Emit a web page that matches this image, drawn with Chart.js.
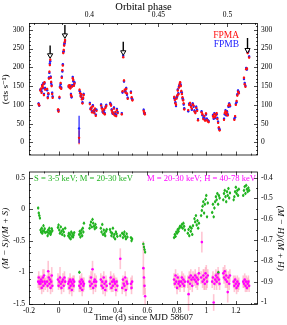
<!DOCTYPE html>
<html>
<head>
<meta charset="utf-8">
<script src="https://cdn.jsdelivr.net/npm/chart.js@4.4.0/dist/chart.umd.min.js"></script>
<style>
  html, body { margin: 0; padding: 0; background: #fff; }
  #wrap { position: relative; width: 287px; height: 325px; }
  canvas { position: absolute; left: 0; }
</style>
</head>
<body>
<div id="wrap">
  <canvas id="lcChart" width="287" height="165" style="top:0"></canvas>
  <canvas id="hrChart" width="287" height="162" style="top:163px"></canvas>
</div>
<script>
// ---- data ----
const tMin = -0.2, tMax = 1.35;
const phaseAtT0 = 0.3777, periodDays = 9.35;

// light curve (cts/s), NuSTAR orbit clusters
const topTime = [
  -0.135,-0.131,
  -0.123,-0.119,-0.115,-0.111,-0.107,-0.103,-0.099,-0.095,-0.091,
  -0.077,-0.073,-0.069,-0.065,-0.062,-0.059,-0.056,-0.053,-0.050,-0.047,-0.043,-0.040,
  -0.003,0.000,0.006,0.010,0.014,0.018,0.022,0.026,0.029,0.032,0.035,0.038,0.041,0.044,
  0.068,0.072,0.076,0.080,0.084,0.088,0.092,0.096,0.100,0.104,0.108,
  0.142,0.146,0.150,0.154,0.158,0.162,0.166,0.170,
  0.212,0.217,0.222,0.227,0.232,0.237,0.242,0.247,0.252,0.257,
  0.288,0.293,0.298,0.303,0.308,0.313,0.318,0.323,
  0.350,0.355,0.360,0.365,0.370,0.375,0.380,0.385,0.390,0.395,0.400,
  0.428,0.433,0.438,0.443,0.448,0.453,0.458,0.463,0.468,
  0.490,0.495,0.500,
  0.576,0.580,0.584,
  0.783,0.787,0.791,0.795,0.799,0.803,0.807,0.811,0.815,0.819,0.823,0.827,0.831,0.835,0.839,0.843,0.847,0.851,
  0.878,0.884,0.890,0.896,0.902,0.908,0.914,0.920,0.926,0.932,0.938,0.944,
  0.968,0.974,0.980,0.986,0.992,0.998,1.004,1.010,1.016,
  1.045,1.050,1.055,1.060,1.065,1.070,1.075,1.080,1.085,1.090,
  1.120,1.125,1.130,1.135,1.140,1.145,1.150,1.155,1.160,
  1.190,1.195,1.200,1.205,1.210,1.215,1.220,
  1.255,1.260,1.265,1.270,1.275,1.280,1.285,1.290
];
const fpma = [
  102,99,
  138,143,132,150,147,155,126,160,141,
  142,118,131,170,188,206,220,172,161,150,129,119,
  88,82,121,146,158,143,172,192,205,238,246,258,267,273,
  151,147,152,144,126,123,149,171,166,151,157,
  140,131,122,128,115,104,119,126,
  102,88,93,80,96,85,78,90,71,84,
  98,90,84,78,88,75,92,97,
  102,98,85,80,76,90,72,81,70,86,78,
  75,136,227,165,140,133,142,130,116,
  132,120,112,
  84,80,75,
  121,113,104,100,117,125,138,128,146,155,160,150,137,129,120,112,104,88,
  86,100,105,95,90,101,98,82,78,92,84,59,
  80,75,62,70,58,77,60,56,54,
  70,66,75,68,72,78,62,52,40,32,
  60,78,83,75,80,72,98,101,99,
  60,70,100,110,125,135,131,
  172,155,148,195,197,238,245,226
];
const fpmb = [
  104,98,
  141,140,136,153,144,158,129,157,145,
  139,121,128,173,185,210,216,175,158,153,132,122,
  85,86,118,149,155,146,175,189,208,241,243,261,264,270,
  148,150,149,147,129,120,152,174,163,154,160,
  137,134,125,125,118,107,116,129,
  105,91,90,83,99,82,81,87,74,87,
  101,93,81,81,85,78,95,100,
  105,101,88,77,79,93,75,78,73,89,81,
  78,133,231,162,137,136,145,127,119,
  135,117,115,
  87,77,78,
  118,116,107,97,120,122,141,131,149,152,157,153,134,132,117,115,101,91,
  83,103,102,98,87,104,95,85,81,95,87,62,
  83,72,65,67,61,74,63,59,57,
  73,63,78,65,75,75,65,55,37,35,
  63,75,86,72,83,75,95,104,96,
  63,67,103,107,128,138,134,
  169,158,151,198,194,241,242,229
];
const countErr = 3;

// the single low bin with a large error bar
const lowBinTime = [0.139];
const lowBinA = [12], lowBinALo = [-5], lowBinAHi = [32];
const lowBinB = [37], lowBinBLo = [-2], lowBinBHi = [71];

// flare arrows
const arrowTime = [-0.057, 0.043, 0.438, 1.279];
const arrowTail = [258, 313, 268, 278];
const arrowTip = [232, 285, 240, 246];

// hardness ratios
const hrTime = [
  -0.138,-0.134,-0.130,-0.126,
  -0.122,-0.118,-0.114,-0.110,-0.106,-0.102,-0.098,-0.094,-0.090,
  -0.078,-0.074,-0.070,-0.066,-0.062,-0.058,-0.054,-0.050,-0.046,-0.042,
  -0.004,0.000,0.005,0.010,0.015,0.020,0.025,0.030,0.035,0.040,0.045,
  0.066,0.070,0.074,0.078,0.082,0.086,0.090,0.094,0.098,0.102,0.106,
  0.140,0.144,0.148,0.152,0.156,0.160,0.164,0.168,0.172,
  0.210,0.215,0.220,0.225,0.230,0.235,0.240,0.245,0.250,0.255,
  0.286,0.291,0.296,0.301,0.306,0.311,0.316,0.321,0.326,
  0.348,0.353,0.358,0.363,0.368,0.373,0.378,0.383,0.388,0.393,0.398,
  0.418,0.431,0.436,0.441,0.446,0.451,0.456,0.461,0.466,
  0.490,0.494,0.498,
  0.574,0.578,0.582,0.586,
  0.782,0.787,0.792,0.797,0.802,0.807,0.812,0.817,0.822,
  0.830,0.835,0.840,0.845,0.850,0.855,
  0.875,0.880,0.885,0.890,0.895,0.900,0.905,0.910,
  0.920,0.925,0.930,0.935,0.940,0.945,0.950,
  0.965,0.970,0.975,0.980,0.985,0.990,0.995,1.000,1.005,1.010,
  1.040,1.045,1.050,1.055,1.060,1.065,1.070,1.075,1.080,1.085,1.090,
  1.115,1.120,1.125,1.130,1.135,1.140,1.145,1.150,1.155,1.160,
  1.185,1.190,1.195,1.200,1.205,1.210,1.215,1.220,
  1.250,1.255,1.260,1.265,1.270,1.275,1.280,1.285,1.290
];
// (M-S)/(M+S), left axis
const hrSoft = [
  0.02,-0.06,-0.10,-0.14,
  -0.33,-0.36,-0.30,-0.38,-0.34,-0.26,-0.35,-0.31,-0.37,
  -0.36,-0.42,-0.33,-0.38,-0.30,-0.35,-0.40,-0.37,-0.31,-0.34,
  -0.29,-0.25,-0.33,-0.38,-0.28,-0.35,-0.40,-0.32,-0.36,-0.42,-0.30,
  -0.42,-0.38,-0.45,-0.40,-0.47,-0.36,-0.43,-0.39,-0.44,-0.41,-0.37,
  -0.40,-0.35,-0.44,-0.38,-0.33,-0.42,-0.30,-0.36,-0.22,
  -0.30,-0.25,-0.20,-0.28,-0.16,-0.22,-0.27,-0.31,-0.24,-0.29,
  -0.30,-0.36,-0.24,-0.40,-0.33,-0.38,-0.42,-0.35,-0.32,
  -0.32,-0.36,-0.42,-0.38,-0.30,-0.44,-0.40,-0.47,-0.36,-0.39,-0.43,
  -0.42,-0.38,-0.45,-0.40,-0.36,-0.43,-0.47,-0.39,-0.44,
  -0.45,-0.50,-0.47,
  -0.55,-0.60,-0.64,-0.68,
  -0.45,-0.40,-0.43,-0.36,-0.38,-0.32,-0.35,-0.30,-0.27,
  -0.28,-0.24,-0.30,-0.22,-0.27,-0.33,
  -0.38,-0.32,-0.42,-0.28,-0.35,-0.30,-0.40,-0.26,
  -0.15,-0.20,-0.10,-0.25,-0.18,-0.30,-0.22,
  -0.10,-0.02,0.05,0.12,-0.06,0.08,0.16,0.22,-0.12,0.10,
  -0.05,0.08,-0.12,0.02,0.12,0.20,0.15,0.25,0.08,0.22,0.18,
  0.15,0.25,0.30,0.20,0.12,0.28,0.22,0.33,0.18,0.26,
  0.15,0.20,0.28,0.35,0.25,0.30,0.22,0.32,
  0.22,0.30,0.36,0.25,0.38,0.32,0.28,0.34,0.30
];
const softErr = 0.025;
const softOutTime = [0.141, 1.082];
const softOutVal = [-1.0, -1.0];
// (M-H)/(M+H), right axis
const hrHard = [
  -0.90,-0.88,-0.91,-0.90,
  -0.91,-0.89,-0.93,-0.90,-0.88,-0.92,-0.87,-0.90,-0.91,
  -0.90,-0.92,-0.85,-0.88,-0.91,-0.89,-0.93,-0.90,-0.87,-0.92,
  -0.89,-0.92,-0.90,-0.88,-0.91,-0.93,-0.90,-0.89,-0.92,-0.88,-0.90,
  -0.91,-0.90,-0.93,-0.89,-0.92,-0.90,-0.94,-0.91,-0.89,-0.92,-0.90,
  -0.92,-0.90,-0.93,-0.91,-0.89,-0.94,-0.90,-0.92,-0.91,
  -0.90,-0.92,-0.88,-0.91,-0.84,-0.93,-0.90,-0.89,-0.92,-0.90,
  -0.89,-0.92,-0.90,-0.93,-0.88,-0.91,-0.94,-0.90,-0.92,
  -0.91,-0.88,-0.93,-0.90,-0.92,-0.89,-0.90,-0.91,-0.94,-0.90,-0.92,
  -0.79,-0.93,-0.89,-0.91,-0.92,-0.88,-0.94,-0.90,-0.91,
  -0.91,-0.93,-0.90,
  -0.835,-0.88,-0.92,-0.97,
  -0.89,-0.91,-0.87,-0.90,-0.93,-0.88,-0.91,-0.90,-0.92,
  -0.90,-0.88,-0.91,-0.89,-0.92,-0.90,
  -0.90,-0.96,-0.88,-0.91,-0.87,-0.89,-0.92,-0.88,
  -0.89,-0.87,-0.90,-0.88,-0.91,-0.89,-0.86,
  -0.88,-0.71,-0.90,-0.87,-0.89,-0.91,-0.86,-0.88,-0.90,-0.87,
  -0.90,-0.88,-1.00,-0.91,-0.89,-0.87,-0.90,-0.88,-0.86,-0.89,-0.91,
  -0.86,-0.88,-0.85,-0.89,-0.87,-0.90,-0.95,-0.88,-0.91,-0.87,
  -0.90,-0.92,-0.89,-0.91,-0.93,-0.90,-0.92,-0.91,
  -0.90,-0.91,-0.89,-0.92,-0.90,-0.93,-0.91,-0.90,-0.92
];
const hardErr = [
  0.03,0.03,0.03,0.03,
  0.03,0.02,0.03,0.03,0.04,0.03,0.03,0.02,0.03,
  0.03,0.03,0.05,0.03,0.02,0.03,0.03,0.03,0.04,0.03,
  0.03,0.02,0.03,0.05,0.03,0.03,0.02,0.03,0.03,0.03,0.02,
  0.03,0.02,0.03,0.03,0.03,0.02,0.03,0.03,0.02,0.03,0.03,
  0.03,0.03,0.02,0.03,0.03,0.03,0.02,0.03,0.03,
  0.03,0.02,0.03,0.03,0.04,0.03,0.02,0.03,0.03,0.03,
  0.03,0.02,0.03,0.03,0.03,0.02,0.03,0.03,0.03,
  0.03,0.03,0.02,0.03,0.03,0.03,0.03,0.03,0.03,0.02,0.03,
  0.05,0.03,0.02,0.03,0.03,0.03,0.03,0.02,0.03,
  0.03,0.03,0.03,
  0.13,0.05,0.04,0.04,
  0.03,0.02,0.03,0.03,0.03,0.02,0.03,0.03,0.03,
  0.03,0.03,0.02,0.03,0.03,0.03,
  0.03,0.08,0.03,0.03,0.03,0.02,0.03,0.03,
  0.03,0.03,0.03,0.02,0.03,0.03,0.03,
  0.03,0.05,0.03,0.03,0.05,0.03,0.03,0.06,0.03,0.03,
  0.03,0.03,0.04,0.03,0.03,0.03,0.04,0.03,0.03,0.03,0.03,
  0.03,0.03,0.03,0.04,0.03,0.03,0.05,0.03,0.03,0.03,
  0.03,0.03,0.02,0.03,0.03,0.03,0.03,0.03,
  0.03,0.02,0.03,0.03,0.03,0.02,0.03,0.03,0.03
];

// ---- helpers / plugins ----
const RED = '#ff1010', BLUE = '#2020ff', GREEN = '#22b422', MAGENTA = '#ff00ff';
const SERIF = "'Liberation Serif', 'DejaVu Serif', serif";
Chart.defaults.font.family = SERIF;
Chart.defaults.color = '#000';
Chart.defaults.animation = false;

const pts = (xs, ys) => xs.map((x, i) => ({ x: x, y: ys[i] }));
const isMult = (v, step) => Math.abs(v / step - Math.round(v / step)) < 1e-6;
const fmt = v => String(Number(v.toFixed(3)));
const labelEvery = step => v => isMult(v, step) ? fmt(v) : '';

const errorBars = {
  id: 'errorBars',
  beforeDatasetsDraw(chart) {
    const ctx = chart.ctx;
    ctx.save();
    chart.data.datasets.forEach(ds => {
      if (ds.err === undefined && !ds.errLo) return;
      const xs = chart.scales[ds.xAxisID || 'x'], ys = chart.scales[ds.yAxisID || 'y'];
      ctx.strokeStyle = ds.errColor;
      ctx.lineWidth = ds.errWidth || 1;
      ds.data.forEach((p, i) => {
        let lo, hi;
        if (ds.errLo) { lo = ds.errLo[i]; hi = ds.errHi[i]; }
        else { const e = Array.isArray(ds.err) ? ds.err[i] : ds.err; lo = p.y - e; hi = p.y + e; }
        const px = xs.getPixelForValue(p.x);
        ctx.beginPath();
        ctx.moveTo(px, ys.getPixelForValue(lo));
        ctx.lineTo(px, ys.getPixelForValue(hi));
        ctx.stroke();
      });
    });
    ctx.restore();
  }
};

const frameTicks = {
  id: 'frameTicks',
  afterDraw(chart, args, opts) {
    const ctx = chart.ctx, a = chart.chartArea;
    ctx.save();
    ctx.strokeStyle = '#000';
    ctx.lineWidth = 0.7;
    Object.values(chart.scales).forEach(s => {
      const major = opts.major[s.id];
      s.ticks.forEach(tk => {
        if (tk.value <= s.min + 1e-9 || tk.value >= s.max - 1e-9) return;
        const len = isMult(tk.value, major) ? 4 : 2;
        const p = Math.round(s.getPixelForValue(tk.value)) + 0.5;
        ctx.beginPath();
        if (s.position === 'left') { ctx.moveTo(a.left, p); ctx.lineTo(a.left + len, p); }
        else if (s.position === 'right') { ctx.moveTo(a.right, p); ctx.lineTo(a.right - len, p); }
        else if (s.position === 'top') { ctx.moveTo(p, a.top); ctx.lineTo(p, a.top + len); }
        else { ctx.moveTo(p, a.bottom); ctx.lineTo(p, a.bottom - len); }
        ctx.stroke();
      });
    });
    ctx.lineWidth = 0.8;
    ctx.strokeRect(a.left + 0.5, a.top + 0.5, a.width - 1, a.height - 1);
    ctx.restore();
  }
};

const notes = {
  id: 'notes',
  afterDraw(chart, args, opts) {
    const ctx = chart.ctx;
    ctx.save();
    opts.items.forEach(it => {
      ctx.font = it.size + 'px ' + SERIF;
      ctx.fillStyle = it.color;
      ctx.textAlign = it.align;
      ctx.textBaseline = 'middle';
      ctx.fillText(it.text, it.x, it.y);
    });
    ctx.restore();
  }
};

const tickFont = { size: 7.5 };
const titleFont = { size: 9.2 };
const noGrid = { display: false, drawTicks: false };
const noBorder = { display: false };
const fixW = w => s => { s.width = w; };
const fixH = h => s => { s.height = h; };
const tickOpts = (step, major, pad, extra) => Object.assign({
  stepSize: step, autoSkip: false, includeBounds: false, maxRotation: 0,
  padding: pad, font: tickFont, callback: labelEvery(major)
}, extra || {});

// ---- top panel: light curve ----
const arrowSets = arrowTime.map((t, i) => ({
  type: 'scatter',
  data: [{ x: t, y: arrowTail[i] }, { x: t, y: arrowTip[i] }],
  showLine: true,
  borderColor: '#000',
  borderWidth: 1.4,
  pointRadius: c => c.dataIndex === 1 ? 3 : 0,
  pointStyle: 'triangle',
  rotation: 180,
  pointBackgroundColor: '#fff',
  pointBorderColor: '#000',
  pointBorderWidth: 1
}));

new Chart(document.getElementById('lcChart'), {
  type: 'scatter',
  data: {
    datasets: [
      ...arrowSets,
      { label: 'FPMA', data: pts(topTime, fpma), backgroundColor: RED, pointRadius: 1.2, pointBorderWidth: 0, err: countErr, errColor: RED },
      { label: 'FPMB', data: pts(topTime, fpmb), backgroundColor: BLUE, pointRadius: 1.2, pointBorderWidth: 0, err: countErr, errColor: BLUE },
      { label: 'FPMA low', data: pts(lowBinTime, lowBinA), backgroundColor: RED, pointRadius: 1.2, pointBorderWidth: 0, errLo: lowBinALo, errHi: lowBinAHi, errColor: RED, errWidth: 1.2 },
      { label: 'FPMB low', data: pts(lowBinTime, lowBinB), backgroundColor: BLUE, pointRadius: 1.2, pointBorderWidth: 0, errLo: lowBinBLo, errHi: lowBinBHi, errColor: BLUE, errWidth: 1.2 }
    ]
  },
  options: {
    responsive: false,
    events: [],
    layout: { padding: 0 },
    plugins: {
      legend: { display: false },
      tooltip: { enabled: false },
      frameTicks: { major: { x: 0.2, xTop: 0.05, y: 50, yR: 50 } },
      notes: { items: [
        { text: 'FPMA', x: 239, y: 35, color: RED, align: 'right', size: 9.5 },
        { text: 'FPMB', x: 239, y: 44, color: BLUE, align: 'right', size: 9.5 }
      ] }
    },
    scales: {
      x: { type: 'linear', position: 'bottom', min: tMin, max: tMax, grid: noGrid, border: noBorder,
           ticks: tickOpts(0.1, 0.2, 0, { display: false }), afterFit: fixH(1) },
      xTop: { type: 'linear', position: 'top', min: phaseAtT0 + tMin / periodDays, max: phaseAtT0 + tMax / periodDays,
              grid: noGrid, border: noBorder,
              ticks: tickOpts(0.01, 0.05, 3),
              title: { display: true, text: 'Orbital phase', font: { size: 10.5 }, padding: { top: 1, bottom: 0 } },
              afterFit: fixH(23) },
      y: { type: 'linear', position: 'left', min: -35, max: 318, grid: noGrid, border: noBorder,
           ticks: tickOpts(10, 50, 5),
           title: { display: true, text: '(cts s\u207B\u00B9)', font: titleFont, padding: 0 },
           afterFit: fixW(29) },
      yR: { type: 'linear', position: 'right', min: -35, max: 318, grid: noGrid, border: noBorder,
            ticks: tickOpts(10, 50, 3),
            afterFit: fixW(29) }
    }
  },
  plugins: [errorBars, frameTicks, notes]
});

// ---- bottom panel: hardness ratios ----
new Chart(document.getElementById('hrChart'), {
  type: 'scatter',
  data: {
    datasets: [
      { label: 'soft', data: pts(hrTime, hrSoft), backgroundColor: GREEN, pointRadius: 1.2, pointBorderWidth: 0, err: softErr, errColor: GREEN, yAxisID: 'y' },
      { label: 'soft out', data: pts(softOutTime, softOutVal), backgroundColor: GREEN, pointRadius: 1.2, pointBorderWidth: 0, err: softErr, errColor: GREEN, yAxisID: 'y' },
      { label: 'hard', data: pts(hrTime, hrHard), backgroundColor: MAGENTA, pointRadius: 1.3, pointBorderWidth: 0, err: hardErr, errColor: 'rgba(255,150,175,0.55)', errWidth: 1.6, yAxisID: 'yR' }
    ]
  },
  options: {
    responsive: false,
    events: [],
    layout: { padding: 0 },
    plugins: {
      legend: { display: false },
      tooltip: { enabled: false },
      frameTicks: { major: { x: 0.2, xTop: 0.2, y: 0.5, yR: 0.1 } },
      notes: { items: [
        { text: 'S = 3-5 keV; M = 20-30 keV', x: 34, y: 16, color: GREEN, align: 'left', size: 8.6 },
        { text: 'M = 20-30 keV; H = 40-78 keV', x: 256, y: 16, color: MAGENTA, align: 'right', size: 8.6 }
      ] }
    },
    scales: {
      x: { type: 'linear', position: 'bottom', min: tMin, max: tMax, grid: noGrid, border: noBorder,
           ticks: tickOpts(0.1, 0.2, 2),
           title: { display: true, text: 'Time (d) since MJD 58607', font: titleFont, padding: { top: 0, bottom: 2 } },
           afterFit: fixH(20) },
      xTop: { type: 'linear', position: 'top', min: tMin, max: tMax, grid: noGrid, border: noBorder,
              ticks: tickOpts(0.1, 0.2, 0, { display: false }), afterFit: fixH(1) },
      y: { type: 'linear', position: 'left', min: -1.52, max: 0.6, grid: noGrid, border: noBorder,
           ticks: tickOpts(0.1, 0.5, 4),
           title: { display: true, text: '(M \u2212 S)/(M + S)', font: { size: 9.2, style: 'italic' }, padding: { top: 0, bottom: 0 } },
           afterFit: fixW(29) },
      yR: { type: 'linear', position: 'right', min: -1.012, max: -0.371, grid: noGrid, border: noBorder,
            ticks: tickOpts(0.05, 0.1, 3),
            title: { display: true, text: '(M \u2212 H)/(M + H)', font: { size: 9.2, style: 'italic' }, padding: { top: 1, bottom: 0 } },
            afterFit: fixW(29) }
    }
  },
  plugins: [errorBars, frameTicks, notes]
});
</script>
</body>
</html>
